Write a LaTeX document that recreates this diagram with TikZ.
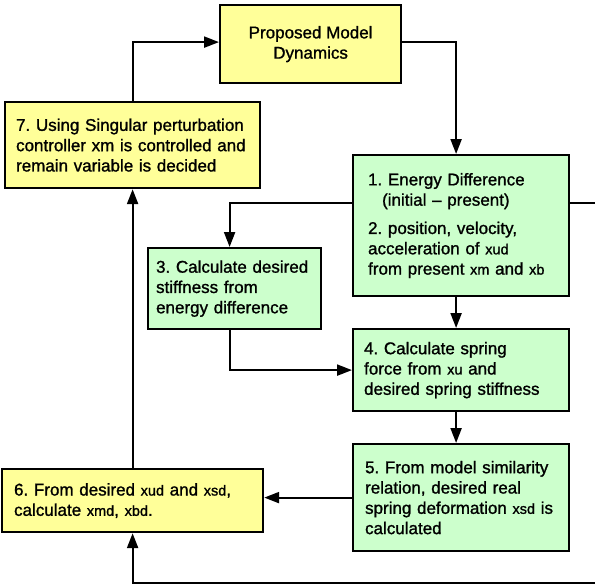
\documentclass[tikz,border=0pt]{standalone}
\usepackage{fontspec}
\setmainfont[FakeBold=1.2]{Liberation Sans}
\usetikzlibrary{arrows.meta,calc}
\definecolor{ylw}{RGB}{255,255,153}
\definecolor{grn}{RGB}{204,255,204}
\newcommand{\sm}[1]{{\fontsize{14.5}{14.5}\selectfont #1}}
\begin{document}
\frenchspacing
\begin{tikzpicture}[x=1pt,y=-1pt,
  box/.style={draw=black,line width=2.2pt,anchor=north west,align=left,
    font=\fontsize{17}{20.3}\selectfont,inner ysep=0pt},
  ybox/.style={box,fill=ylw},
  gbox/.style={box,fill=grn},
  arr/.style={line width=2.2pt,-{Triangle[length=15pt,width=11pt]}}]
\useasboundingbox (0,0) rectangle (595,586);
\node[ybox,align=center,minimum width=181pt,minimum height=78pt] (pm) at (219,4) {Proposed Model\\Dynamics};
\node[ybox,inner xsep=11pt,text width=233pt,minimum height=86pt] (b7) at (4,101)
 {7. Using Singular perturbation\\controller xm is controlled and\\remain variable is decided};
\node[gbox,inner xsep=15pt,text width=186pt,minimum height=141pt] (b1) at (352,154)
 {1. Energy Difference\\\hspace*{14pt}(initial – present)\\[8pt]2. position, velocity,\\acceleration of \sm{xud}\\from present \sm{xm} and \sm{xb}};
\node[gbox,inner xsep=8pt,text width=157pt,minimum height=81pt] (b3) at (147,247)
 {3. Calculate desired\\stiffness from\\energy difference};
\node[gbox,inner xsep=11pt,text width=194pt,minimum height=82pt] (b4) at (352,328)
 {4. Calculate spring\\force from \sm{xu} and\\desired spring stiffness};
\node[gbox,inner xsep=12pt,text width=192pt,minimum height=107pt] (b5) at (352,443)
 {5. From model similarity\\relation, desired real\\spring deformation \sm{xsd} is\\calculated};
\node[ybox,inner xsep=12pt,text width=237pt,minimum height=63pt] (b6) at (1,468)
 {6. From desired \sm{xud} and \sm{xsd},\\calculate \sm{xmd}, \sm{xbd}.};
\coordinate (rc) at (599,583);
\draw[arr] (b7.north) |- ([yshift=2pt]pm.west);
\draw[arr] ([yshift=2pt]pm.east) -| ([xshift=-5pt]b1.north);
\draw[arr] ([yshift=22.5pt]b1.west) -| ([xshift=-5pt]b3.north);
\draw[arr] ([yshift=22.5pt]b1.east) -| (rc) -| (b6.south);
\draw[arr] ([xshift=-5pt]b3.south) |- (b4.west);
\draw[arr] ([xshift=-5pt]b1.south) -- ([xshift=-5pt]b4.north);
\draw[arr] ([xshift=-5pt]b4.south) -- ([xshift=-5pt]b5.north);
\draw[arr] (b5.west) -- (b5.west -| b6.east);
\draw[arr] (b6.north) -- (b7.south);
\end{tikzpicture}
\end{document}
